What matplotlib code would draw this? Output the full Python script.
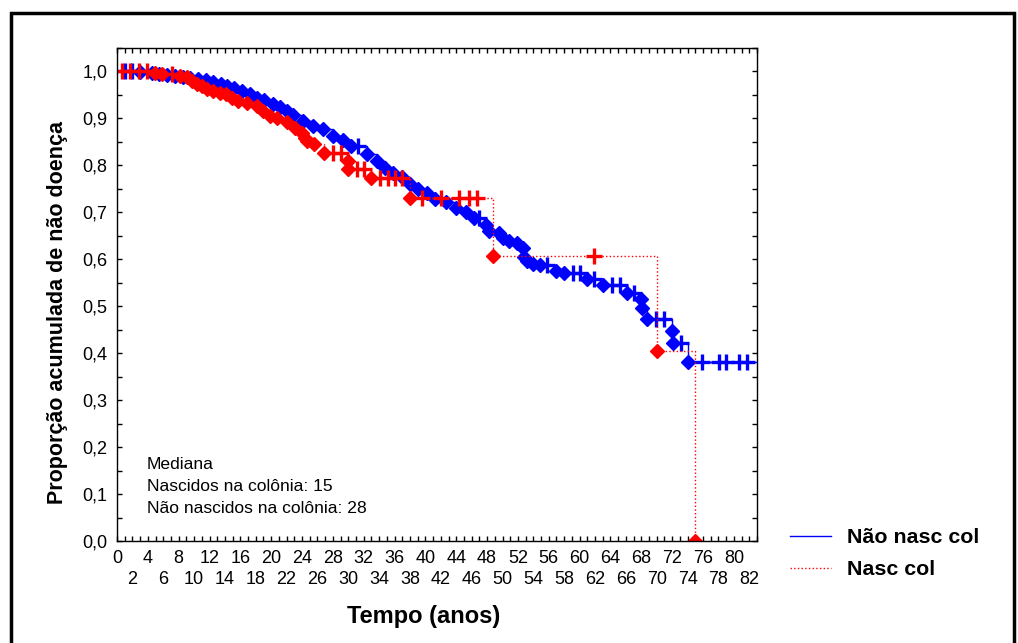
import numpy as np
import matplotlib
matplotlib.use("Agg")
import matplotlib.pyplot as plt
from matplotlib.lines import Line2D
from matplotlib.patches import Rectangle
from matplotlib.ticker import MultipleLocator, FuncFormatter

plt.rcParams['font.family'] = ['Liberation Sans', 'DejaVu Sans']

# Não nascidos na colônia (blue)
blue_ev_t = [3.0, 4.5, 5.5, 6.5, 7.5, 8.5, 9.5, 10.5, 11.5, 12.5, 13.5, 14.3, 15.2, 16.2, 17.2,
             18.1, 19.1, 20.2, 21.1, 22.0, 22.8, 24.1, 25.4, 26.7, 28.0, 29.3, 30.4, 32.4, 33.7,
             34.7, 35.8, 36.9, 38.0, 39.0, 40.2, 41.2, 42.7, 44.0, 45.3, 46.3, 47.9, 48.3, 49.6,
             50.0, 50.9, 51.9, 52.6, 52.8, 53.2, 53.9, 54.8, 57.0, 58.0, 60.9, 63.0, 66.1, 67.9,
             68.1, 68.8, 72.0, 72.1, 74.0]
blue_ev_s = [0.998, 0.997, 0.995, 0.993, 0.990, 0.988, 0.986, 0.983, 0.981, 0.977, 0.973, 0.969,
             0.964, 0.959, 0.951, 0.944, 0.938, 0.931, 0.924, 0.916, 0.906, 0.895, 0.884, 0.878,
             0.863, 0.853, 0.842, 0.825, 0.810, 0.795, 0.784, 0.774, 0.761, 0.750, 0.740, 0.729,
             0.721, 0.710, 0.700, 0.688, 0.672, 0.661, 0.655, 0.646, 0.640, 0.634, 0.625, 0.604,
             0.597, 0.591, 0.587, 0.576, 0.570, 0.559, 0.545, 0.529, 0.515, 0.496, 0.474, 0.447,
             0.421, 0.381]
blue_cens_t = [1.0, 2.0, 31.2, 47.0, 55.8, 59.1, 60.0, 61.9, 64.2, 65.2, 67.1, 69.9, 71.0, 73.2,
               75.9, 78.1, 79.0, 80.7, 81.7]
blue_end = 83.0

# Nascidos na colônia (red)
red_ev_t = [4.9, 5.9, 8.2, 9.1, 9.7, 10.4, 11.0, 11.7, 12.4, 13.3, 14.2, 14.9, 15.7, 16.8, 18.1,
            18.9, 19.8, 20.7, 22.0, 23.1, 24.0, 24.4, 24.7, 25.6, 26.9, 29.9, 30.0, 33.0, 38.0,
            48.8, 70.0, 75.0]
red_ev_s = [0.997, 0.995, 0.990, 0.988, 0.980, 0.973, 0.969, 0.963, 0.959, 0.954, 0.952, 0.944,
            0.937, 0.933, 0.927, 0.916, 0.905, 0.901, 0.891, 0.880, 0.869, 0.857, 0.852, 0.846,
            0.827, 0.810, 0.793, 0.772, 0.731, 0.608, 0.406, 0.0]
red_cens_t = [0.7, 1.7, 2.8, 3.9, 7.1, 28.0, 29.1, 31.1, 32.1, 34.1, 35.1, 36.1, 37.0, 39.6,
              42.0, 44.4, 45.6, 46.7, 61.9]
red_end = 75.0

legend_labels = ["Não nasc col", "Nasc col"]
note = "Mediana\nNascidos na colônia: 15\nNão nascidos na colônia: 28"


def surv_at(t, ev_t, ev_s):
    s = 1.0
    for a, b in zip(ev_t, ev_s):
        if a <= t:
            s = b
    return s


def step_pts(ev_t, ev_s, cens_t, end):
    ts = sorted(set([0.0] + list(ev_t) + list(cens_t) + [end]))
    return ts, [surv_at(t, ev_t, ev_s) for t in ts]


fig = plt.figure(figsize=(10.18, 6.43), dpi=100)
ax = fig.add_axes([0.1149, 0.1579, 0.6287, 0.7679])

series = [(blue_ev_t, blue_ev_s, blue_cens_t, blue_end, '#0000ff', '-'),
          (red_ev_t, red_ev_s, red_cens_t, red_end, '#ff0000', ':')]
for ev_t, ev_s, cens_t, end, col, ls in series:
    ts, ss = step_pts(ev_t, ev_s, cens_t, end)
    ax.plot(ts, ss, drawstyle='steps-post', color=col, ls=ls, lw=1.0)
    ax.plot(ev_t, ev_s, 'D', color=col, ms=7.2, mec=col, ls='none')
    cs = [surv_at(t, ev_t, ev_s) for t in cens_t]
    ax.plot(cens_t, cs, '+', color=col, ms=11, mew=2.4, ls='none')

ax.set_xlim(0, 83)
ax.set_ylim(0, 1.05)
# staggered x labels: 0,4,8.. on the first row, 2,6,10.. on the second
ax.xaxis.set_major_locator(MultipleLocator(4))
ax.xaxis.set_minor_locator(MultipleLocator(1))
ax.xaxis.set_minor_formatter(FuncFormatter(
    lambda v, pos: str(int(round(v))) if int(round(v)) % 4 == 2 else ""))
ax.set_yticks(np.arange(0, 1.01, 0.1))
ax.set_yticks(np.arange(0, 1.051, 0.05), minor=True)
ax.set_yticklabels([f"{v:.1f}".replace('.', ',') for v in np.arange(0, 1.01, 0.1)])
ax.tick_params(which='both', direction='in', top=True, right=True, length=3.5, width=1,
               labelsize=13)
ax.tick_params(axis='y', pad=7)
ax.tick_params(axis='x', which='major', pad=6)
ax.tick_params(axis='x', which='minor', pad=21)
for sp in ax.spines.values():
    sp.set_linewidth(1.0)

ax.text(0.047, 0.172, note, transform=ax.transAxes, fontsize=12.6, linespacing=1.62,
        va='top', ha='left')

fig.text(58 / 1018, 1 - 312 / 643, "Proporção acumulada de não doença", rotation=90,
         fontsize=15.5, fontweight='bold', ha='center', va='center')
fig.text(424 / 1018, 1 - 616 / 643, "Tempo (anos)", fontsize=17, fontweight='bold',
         ha='center', va='center')

handles = [Line2D([], [], color='#0000ff', lw=1.0),
           Line2D([], [], color='#ff0000', lw=1.0, ls=':')]
fig.legend(handles, legend_labels, loc='upper left', bbox_to_anchor=(790 / 1018, 1 - 528 / 643),
           frameon=False, prop={'weight': 'bold', 'size': 15.4}, handlelength=1.9,
           handletextpad=0.75, labelspacing=0.62, borderpad=0, borderaxespad=0)

fig.add_artist(Rectangle((11 / 1018, -0.1), 1003 / 1018, 1.1 - 13 / 643, transform=fig.transFigure,
                         fill=False, lw=2.5, ec='black'))

fig.savefig("out.png", dpi=100)
